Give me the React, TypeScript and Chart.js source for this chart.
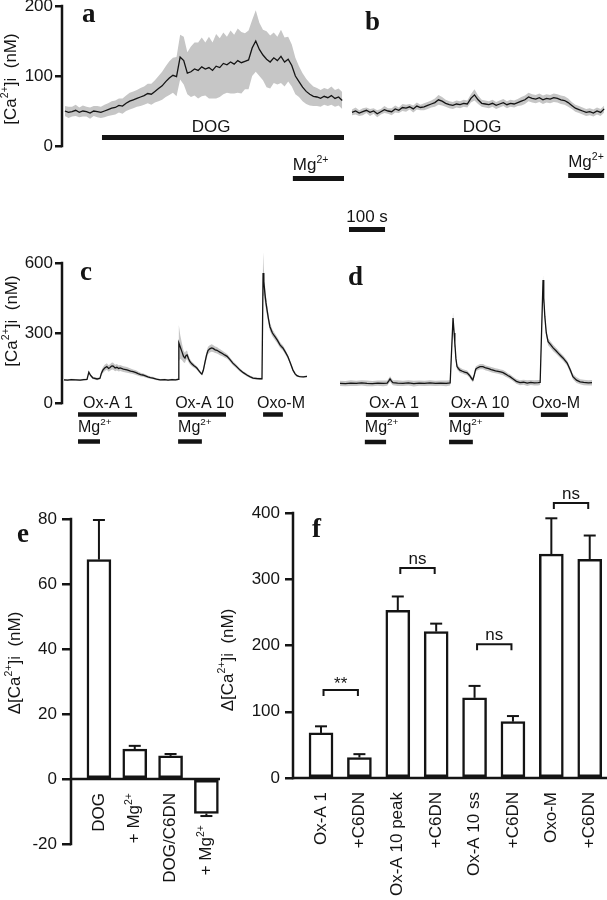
import React, { useEffect, useRef } from 'react';
import { Chart, registerables } from 'chart.js';

Chart.register(...registerables);

/* ================= data ================= */
// traces a & b: one sample every 10 s
const TRACE_STEP_S = 10;

const aMean = [
  50, 48, 49, 51, 48, 50, 49, 47, 50, 49,
  48, 50, 52, 54, 55, 58, 57, 61, 64, 66,
  68, 70, 72, 75, 74, 78, 82, 86, 92, 97,
  101, 99, 127, 122, 104, 106, 110, 108, 113, 110,
  112, 108, 114, 112, 118, 116, 120, 117, 122, 119,
  121, 123, 140, 150, 138, 130, 124, 120, 126, 122,
  128, 120, 124, 115, 100, 92, 84, 78, 74, 71,
  70, 68, 71, 69, 72, 68, 70, 65,
];
const aSd = [
  7, 8, 7, 8, 7, 8, 7, 8, 7, 8,
  8, 9, 9, 10, 10, 10, 11, 11, 12, 12,
  12, 13, 13, 14, 15, 16, 18, 20, 22, 24,
  25, 28, 32, 34, 30, 36, 38, 40, 42, 38,
  44, 40, 46, 42, 44, 40, 45, 42, 46, 44,
  40, 42, 40, 44, 38, 36, 40, 38, 36, 34,
  38, 35, 32, 30, 26, 22, 20, 18, 16, 14,
  13, 12, 12, 12, 13, 12, 12, 12,
];
const bMean = [
  48, 50, 47, 49, 51, 48, 50, 46, 49, 52,
  50, 49, 53, 51, 55, 54, 56, 53, 57, 55,
  56, 58, 60, 62, 66, 64, 61, 59, 58, 60,
  59, 61, 60, 68, 73, 66, 61, 60, 59, 61,
  58, 60, 62, 59, 61, 60, 62, 64, 66, 70,
  68, 67, 69, 66, 68, 67, 69, 68, 66, 65,
  62, 58, 54, 52, 50, 48, 49, 47, 50, 48,
  53,
];
const bSd = [
  4, 5, 4, 5, 4, 5, 4, 5, 4, 5,
  4, 5, 5, 4, 5, 5, 4, 5, 5, 4,
  5, 5, 5, 6, 7, 6, 5, 5, 5, 5,
  5, 5, 5, 6, 8, 6, 5, 5, 5, 5,
  5, 5, 5, 5, 5, 5, 5, 6, 6, 6,
  6, 6, 6, 6, 6, 6, 6, 6, 6, 6,
  6, 5, 5, 5, 5, 5, 5, 5, 5, 5,
  5,
];

// traces c & d: time (s), mean and SD (nM)
const cTime = [
  0, 10, 20, 33, 45, 55, 64, 69, 74, 80,
  92, 100, 104, 108, 113, 119, 124, 128, 132, 136,
  142, 147, 152, 156, 165, 175, 185, 192, 200, 206,
  213, 219, 226, 233, 240, 247, 257, 267, 280, 289,
  300, 310, 317, 319, 323, 328, 332, 336, 339, 342,
  346, 350, 355, 361, 365, 369, 375, 380, 383, 387,
  392, 396, 400, 405, 410, 414, 420, 425, 430, 433,
  440, 446, 453, 460, 469, 478, 489, 498, 508, 516,
  525, 535, 544, 550, 553, 555, 558, 561, 564, 568,
  572, 579, 586, 593, 600, 604, 608, 615, 622, 629,
  636, 642, 647, 652, 656, 665, 675,
];
const cMean = [
  99, 98, 100, 99, 98, 100, 101, 132, 118, 108,
  103, 106, 128, 141, 150, 156, 148, 152, 158, 159,
  150, 153, 148, 150, 145, 142, 137, 134, 130, 126,
  122, 120, 116, 112, 109, 107, 102, 99, 100, 98,
  100, 99, 101, 257, 240, 218, 200, 193, 204, 206,
  190, 177, 168, 160, 155, 150, 138, 128, 124, 140,
  177, 205, 225, 232, 236, 234, 228, 226, 221, 218,
  212, 206, 200, 188, 171, 158, 141, 130, 120, 113,
  107, 105, 104, 104, 557, 520, 471, 430, 399, 360,
  327, 300, 284, 268, 249, 242, 236, 218, 198, 170,
  141, 125, 117, 114, 113, 112, 114,
];
const cSd = [
  4, 4, 4, 4, 4, 4, 4, 8, 6, 5,
  5, 5, 10, 12, 14, 14, 14, 14, 15, 15,
  14, 14, 13, 13, 12, 12, 11, 10, 10, 9,
  8, 8, 7, 6, 5, 5, 4, 4, 4, 4,
  4, 4, 5, 77, 50, 35, 25, 22, 20, 18,
  15, 12, 10, 9, 8, 8, 7, 6, 6, 10,
  14, 16, 16, 16, 16, 15, 14, 14, 13, 13,
  12, 11, 10, 9, 9, 8, 7, 6, 6, 5,
  5, 4, 4, 4, 90, 60, 40, 30, 25, 20,
  18, 15, 14, 13, 12, 12, 11, 10, 9, 8,
  7, 6, 5, 4, 4, 4, 4,
];
const dTime = [
  0, 15, 30, 45, 60, 75, 90, 105, 120, 131,
  136, 139, 143, 147, 160, 175, 190, 205, 220, 235,
  250, 265, 280, 295, 306, 314, 317, 319, 322, 325,
  329, 333, 340, 346, 353, 360, 366, 369, 373, 377,
  381, 389, 397, 405, 413, 420, 425, 432, 439, 446,
  453, 460, 466, 472, 480, 490, 500, 510, 520, 530,
  540, 550, 556, 564, 566, 569, 573, 578, 585, 592,
  600, 606, 611, 620, 631, 640, 647, 657, 667, 677,
  690, 700,
];
const dMean = [
  84, 83, 85, 84, 86, 84, 83, 85, 84, 85,
  96, 103, 94, 87, 85, 84, 86, 83, 85, 84,
  86, 84, 85, 84, 86, 364, 300, 257, 190, 156,
  148, 141, 136, 132, 129, 118, 104, 99, 120, 145,
  150, 156, 156, 150, 147, 143, 141, 138, 136, 133,
  130, 124, 118, 113, 104, 93, 87, 89, 85, 88,
  86, 87, 88, 527, 450, 370, 300, 263, 250, 236,
  224, 214, 206, 192, 171, 140, 113, 98, 91, 88,
  86, 87,
];
const dSd = [
  11, 11, 12, 11, 11, 12, 11, 11, 12, 11,
  11, 12, 11, 11, 12, 11, 11, 12, 11, 11,
  12, 11, 11, 12, 11, 24, 20, 18, 15, 12,
  11, 11, 10, 10, 10, 10, 10, 10, 10, 11,
  11, 11, 11, 11, 11, 11, 11, 11, 11, 11,
  11, 11, 10, 10, 10, 10, 11, 11, 12, 11,
  11, 12, 11, 22, 20, 18, 16, 15, 14, 14,
  13, 13, 12, 12, 11, 11, 11, 12, 11, 12,
  11, 12,
];

// application periods (s)
const aDOG = [103, 775];
const aMg = [633, 775];
const bDOG = [117, 700];
const bMg = [600, 700];
const cOxA1 = [39, 203];
const cOxA10 = [317, 450];
const cOxoM = [553, 608];
const cMg1 = [39, 100];
const cMg10 = [317, 383];
const dOxA1 = [72, 219];
const dOxA10 = [303, 456];
const dOxoM = [558, 633];
const dMg1 = [69, 128];
const dMg10 = [303, 369];
const SCALE_BAR_S = 100;

const abTicks = [0, 100, 200];
const cdTicks = [0, 300, 600];

// bar panels
const eLabels = ['DOG', '+ Mg^{2+}', 'DOG/C6DN', '+ Mg^{2+}'];
const eMean = [67.5, 9.2, 7.1, -10.6];
const eErr = [12.2, 1.0, 0.6, 0.8];
const eTicks = [-20, 0, 20, 40, 60, 80];

const fLabels = ['Ox-A 1', '+C6DN', 'Ox-A 10 peak', '+C6DN', 'Ox-A 10 ss', '+C6DN', 'Oxo-M', '+C6DN'];
const fMean = [68, 31, 253, 221, 121, 85, 338, 330];
const fErr = [10, 5, 21, 12, 18, 8.5, 54, 36];
const fTicks = [0, 100, 200, 300, 400];
const fSigFrom = [1, 3, 5, 7];
const fSigTo = [2, 4, 6, 8];
const fSigY = [133, 317, 202, 415];
const fSigText = ['**', 'ns', 'ns', 'ns'];

/* ================= drawing helpers ================= */
const W = 607;
const H = 900;
const OFF = 30;
const CH = H + 2 * OFF;
const YW = 45;
const INK = '#141414';
const BAND = '#c6c6c6';
const SANS = '"Liberation Sans", Arial, Helvetica, sans-serif';
const SERIF = '"Liberation Serif", "Times New Roman", serif';

type Box = { l: number; t: number; r: number; b: number };

Chart.defaults.font.family = SANS;

function parseRich(s: string) {
  const out: { t: string; sup: boolean }[] = [];
  const re = /\^\{([^}]*)\}/g;
  let last = 0;
  let m: RegExpExecArray | null;
  while ((m = re.exec(s))) {
    if (m.index > last) out.push({ t: s.slice(last, m.index), sup: false });
    out.push({ t: m[1], sup: true });
    last = m.index + m[0].length;
  }
  if (last < s.length) out.push({ t: s.slice(last), sup: false });
  return out;
}

function drawRich(
  ctx: CanvasRenderingContext2D,
  s: string,
  x: number,
  y: number,
  align: 'left' | 'center' | 'right',
  size: number,
  baseline: CanvasTextBaseline = 'alphabetic'
) {
  const segs = parseRich(s);
  const supSize = size * 0.62;
  const raise = baseline === 'middle' ? size * 0.32 : size * 0.42;
  ctx.textBaseline = baseline;
  ctx.textAlign = 'left';
  ctx.fillStyle = INK;
  const widths = segs.map((g) => {
    ctx.font = `${g.sup ? supSize : size}px ${SANS}`;
    return ctx.measureText(g.t).width;
  });
  const total = widths.reduce((p, c) => p + c, 0);
  let cx = align === 'left' ? x : align === 'center' ? x - total / 2 : x - total;
  segs.forEach((g, i) => {
    ctx.font = `${g.sup ? supSize : size}px ${SANS}`;
    ctx.fillText(g.t, cx, g.sup ? y - raise : y);
    cx += widths[i];
  });
}

// page-coordinate text
function text(ctx: CanvasRenderingContext2D, s: string, x: number, y: number, align: 'left' | 'center' | 'right', size = 17) {
  drawRich(ctx, s, x, y + OFF, align, size);
}

function rotated(ctx: CanvasRenderingContext2D, s: string, x: number, yCanvas: number, align: 'left' | 'center' | 'right', size = 17) {
  ctx.save();
  ctx.translate(x, yCanvas);
  ctx.rotate(-Math.PI / 2);
  drawRich(ctx, s, 0, 0, align, size, 'middle');
  ctx.restore();
}

function letter(ctx: CanvasRenderingContext2D, s: string, x: number, y: number) {
  ctx.font = `bold 27px ${SERIF}`;
  ctx.textAlign = 'left';
  ctx.textBaseline = 'alphabetic';
  ctx.fillStyle = INK;
  ctx.fillText(s, x, y + OFF);
}

function hbar(ctx: CanvasRenderingContext2D, x1: number, x2: number, yPage: number, th = 5) {
  ctx.fillStyle = INK;
  ctx.fillRect(x1, yPage + OFF - th / 2, x2 - x1, th);
}

function line(ctx: CanvasRenderingContext2D, pts: number[][], w = 2) {
  ctx.strokeStyle = INK;
  ctx.lineWidth = w;
  ctx.lineCap = 'butt';
  ctx.beginPath();
  pts.forEach((p, i) => (i ? ctx.lineTo(p[0], p[1]) : ctx.moveTo(p[0], p[1])));
  ctx.stroke();
}

function pad(box: Box, axis: boolean) {
  return {
    left: axis ? box.l - YW : box.l,
    top: box.t + OFF,
    right: W - box.r,
    bottom: CH - (box.b + OFF),
  };
}

function yScale(show: boolean, min: number, max: number, ticks: number[], tickLength: number, padding: number) {
  const s: any = {
    type: 'linear',
    min,
    max,
    display: show,
    afterBuildTicks: (sc: any) => {
      sc.ticks = ticks.map((v) => ({ value: v }));
    },
    ticks: { color: INK, font: { size: 17, family: SANS }, padding },
    grid: { drawOnChartArea: false, drawTicks: true, tickLength, color: INK, lineWidth: 2.5 },
    border: { display: false },
  };
  if (show) s.afterFit = (sc: any) => { sc.width = YW; };
  return s;
}

type Px = (v: number) => number;

function traceChart(
  canvas: HTMLCanvasElement,
  o: {
    time: number[]; mean: number[]; sd: number[]; box: Box; xMin: number; xMax: number; yMax: number;
    ticks: number[]; axis: boolean; draw: (ctx: CanvasRenderingContext2D, px: Px, py: Px) => void;
  }
) {
  const n = Math.min(o.time.length, o.mean.length, o.sd.length);
  const mean: any[] = [];
  const up: any[] = [];
  const lo: any[] = [];
  for (let i = 0; i < n; i++) {
    mean.push({ x: o.time[i], y: o.mean[i] });
    up.push({ x: o.time[i], y: o.mean[i] + o.sd[i] });
    lo.push({ x: o.time[i], y: o.mean[i] - o.sd[i] });
  }
  return new Chart(canvas, {
    type: 'line',
    data: {
      datasets: [
        { data: mean, borderColor: INK, borderWidth: 1.3, pointRadius: 0, fill: false, clip: false, order: 0, tension: 0 } as any,
        { data: up, borderColor: 'rgba(0,0,0,0)', borderWidth: 0, pointRadius: 0, fill: '+1', backgroundColor: BAND, clip: false, order: 1 } as any,
        { data: lo, borderColor: 'rgba(0,0,0,0)', borderWidth: 0, pointRadius: 0, fill: false, clip: false, order: 2 } as any,
      ],
    },
    options: {
      responsive: false,
      maintainAspectRatio: false,
      animation: false,
      devicePixelRatio: 1,
      events: [],
      layout: { padding: pad(o.box, o.axis) },
      plugins: { legend: { display: false }, tooltip: { enabled: false } },
      scales: {
        x: { type: 'linear', min: o.xMin, max: o.xMax, display: false },
        y: yScale(o.axis, 0, o.yMax, o.ticks, 7, 2),
      },
    } as any,
    plugins: [
      {
        id: 'annot',
        afterDraw: (chart: any) => {
          const ctx = chart.ctx as CanvasRenderingContext2D;
          const xs = chart.scales.x;
          const ys = chart.scales.y;
          const px = (t: number) => xs.getPixelForValue(t);
          const py = (v: number) => ys.getPixelForValue(v);
          ctx.save();
          if (o.axis) {
            const x = chart.chartArea.left;
            line(ctx, [[x, py(o.ticks[0]) + 1.25], [x, py(o.ticks[o.ticks.length - 1]) - 1.25]], 2.5);
          }
          o.draw(ctx, px, py);
          ctx.restore();
        },
      },
    ],
  });
}

function barChart(
  canvas: HTMLCanvasElement,
  o: {
    mean: number[]; err: number[]; labels: string[]; box: Box; xMin: number; xMax: number; yMin: number; yMax: number;
    ticks: number[]; tickLength: number; zeroRight: number;
    draw: (ctx: CanvasRenderingContext2D, px: Px, py: Px) => void;
  }
) {
  return new Chart(canvas, {
    type: 'bar',
    data: {
      datasets: [
        {
          data: o.mean.map((v, i) => ({ x: i + 1, y: v })),
          backgroundColor: '#ffffff',
          borderColor: INK,
          borderWidth: 2.5,
          borderSkipped: false,
          barThickness: 24,
        } as any,
      ],
    },
    options: {
      responsive: false,
      maintainAspectRatio: false,
      animation: false,
      devicePixelRatio: 1,
      events: [],
      layout: { padding: pad(o.box, true) },
      plugins: { legend: { display: false }, tooltip: { enabled: false } },
      scales: {
        x: { type: 'linear', min: o.xMin, max: o.xMax, display: false, offset: false },
        y: yScale(true, o.yMin, o.yMax, o.ticks, o.tickLength, 5),
      },
    } as any,
    plugins: [
      {
        id: 'annot',
        afterDraw: (chart: any) => {
          const ctx = chart.ctx as CanvasRenderingContext2D;
          const xs = chart.scales.x;
          const ys = chart.scales.y;
          const px = (t: number) => xs.getPixelForValue(t);
          const py = (v: number) => ys.getPixelForValue(v);
          const left = chart.chartArea.left;
          ctx.save();
          line(ctx, [[left, py(o.ticks[0]) + 1.25], [left, py(o.ticks[o.ticks.length - 1]) - 1.25]], 2.5);
          line(ctx, [[left, py(0)], [o.zeroRight, py(0)]], 2.5);
          o.mean.forEach((v, i) => {
            const x = px(i + 1);
            const sgn = v >= 0 ? 1 : -1;
            const y0 = py(v);
            const y1 = py(v + sgn * o.err[i]);
            line(ctx, [[x, y0], [x, y1]], 2);
            line(ctx, [[x - 6, y1], [x + 6, y1]], 2);
            const yTop = v >= 0 ? py(0) + 14 : y1 + 9;
            rotated(ctx, o.labels[i], x, yTop, 'right', 17);
          });
          o.draw(ctx, px, py);
          ctx.restore();
        },
      },
    ],
  });
}

/* ================= panels ================= */
const BOX_A: Box = { l: 62, t: 6, r: 344, b: 146 };
const BOX_B: Box = { l: 352, t: 6, r: 606, b: 146 };
const BOX_C: Box = { l: 62, t: 403 - (650 * 70) / 300, r: 307, b: 403 };
const BOX_D: Box = { l: 340, t: 403 - (650 * 70) / 300, r: 592, b: 403 };
const BOX_E: Box = { l: 71, t: 519, r: 220, b: 844 };
const BOX_F: Box = { l: 293, t: 513, r: 607, b: 778 };

const CA_TITLE = '[Ca^{2+}]i  (nM)';
const DCA_TITLE = '\u0394[Ca^{2+}]i  (nM)';

function build(cs: HTMLCanvasElement[]) {
  const stepTimes = (n: number) => Array.from({ length: n }, (_, i) => i * TRACE_STEP_S);
  const charts: Chart[] = [];

  charts.push(
    traceChart(cs[0], {
      time: stepTimes(aMean.length), mean: aMean, sd: aSd, box: BOX_A, xMin: -8, xMax: 775, yMax: 200,
      ticks: abTicks, axis: true,
      draw: (ctx, px) => {
        hbar(ctx, px(aDOG[0]), px(aDOG[1]), 137.5);
        text(ctx, 'DOG', 211, 132, 'center');
        hbar(ctx, px(aMg[0]), px(aMg[1]), 178.5);
        text(ctx, 'Mg^{2+}', px(aMg[0]), 170, 'left');
        letter(ctx, 'a', 82, 22);
        rotated(ctx, CA_TITLE, 11, 79 + OFF, 'center', 17);
      },
    })
  );

  charts.push(
    traceChart(cs[1], {
      time: stepTimes(bMean.length), mean: bMean, sd: bSd, box: BOX_B, xMin: 0, xMax: 705, yMax: 200,
      ticks: abTicks, axis: false,
      draw: (ctx, px) => {
        hbar(ctx, px(bDOG[0]), px(bDOG[1]), 137.5);
        text(ctx, 'DOG', 482, 132, 'center');
        hbar(ctx, px(bMg[0]), px(bMg[1]), 175.5);
        text(ctx, 'Mg^{2+}', px(bMg[0]), 167, 'left');
        letter(ctx, 'b', 365, 30);
        const len = px(SCALE_BAR_S) - px(0);
        hbar(ctx, 349, 349 + len, 229.5);
        text(ctx, '100 s', 349 + len / 2, 222, 'center');
      },
    })
  );

  charts.push(
    traceChart(cs[2], {
      time: cTime, mean: cMean, sd: cSd, box: BOX_C, xMin: -5.5, xMax: 675, yMax: 650,
      ticks: cdTicks, axis: true,
      draw: (ctx, px) => {
        [cOxA1, cOxA10, cOxoM].forEach((p) => hbar(ctx, px(p[0]), px(p[1]), 414.5, 4.5));
        [cMg1, cMg10].forEach((p) => {
          hbar(ctx, px(p[0]), px(p[1]), 441.5, 4.5);
          text(ctx, 'Mg^{2+}', px(p[0]), 432, 'left', 16);
        });
        text(ctx, 'Ox-A 1', 108, 408, 'center', 16);
        text(ctx, 'Ox-A 10', 204.5, 408, 'center', 16);
        text(ctx, 'Oxo-M', 281, 408, 'center', 16);
        letter(ctx, 'c', 80, 280);
        rotated(ctx, CA_TITLE, 12, 321 + OFF, 'center', 17);
      },
    })
  );

  charts.push(
    traceChart(cs[3], {
      time: dTime, mean: dMean, sd: dSd, box: BOX_D, xMin: 0, xMax: 700, yMax: 650,
      ticks: cdTicks, axis: false,
      draw: (ctx, px) => {
        [dOxA1, dOxA10, dOxoM].forEach((p) => hbar(ctx, px(p[0]), px(p[1]), 414.7, 4.5));
        [dMg1, dMg10].forEach((p) => {
          hbar(ctx, px(p[0]), px(p[1]), 442, 4.5);
          text(ctx, 'Mg^{2+}', px(p[0]), 432, 'left', 16);
        });
        text(ctx, 'Ox-A 1', 394, 408, 'center', 16);
        text(ctx, 'Ox-A 10', 480, 408, 'center', 16);
        text(ctx, 'Oxo-M', 556, 408, 'center', 16);
        letter(ctx, 'd', 348, 285);
      },
    })
  );

  charts.push(
    barChart(cs[4], {
      mean: eMean, err: eErr, labels: eLabels, box: BOX_E, xMin: 0.22, xMax: 4.38, yMin: -20, yMax: 80,
      ticks: eTicks, tickLength: 9, zeroRight: 220,
      draw: (ctx) => {
        letter(ctx, 'e', 17, 542);
        rotated(ctx, DCA_TITLE, 15, 663 + OFF, 'center', 17);
      },
    })
  );

  charts.push(
    barChart(cs[5], {
      mean: fMean, err: fErr, labels: fLabels, box: BOX_F, xMin: 0.27, xMax: 8.45, yMin: 0, yMax: 400,
      ticks: fTicks, tickLength: 8, zeroRight: 607,
      draw: (ctx, px, py) => {
        fSigY.forEach((yv, i) => {
          const x1 = px(fSigFrom[i]) + 2.5;
          const x2 = px(fSigTo[i]) - 1.5;
          const y = py(yv);
          line(ctx, [[x1, y + 6], [x1, y], [x2, y], [x2, y + 6]], 2);
          const t = fSigText[i];
          drawRich(ctx, t, (x1 + x2) / 2, t === '**' ? y - 1 : y - 4, 'center', 17);
        });
        letter(ctx, 'f', 312, 537);
        rotated(ctx, DCA_TITLE, 228, 660 + OFF, 'center', 17);
      },
    })
  );

  return charts;
}

export default function App() {
  const r0 = useRef<HTMLCanvasElement>(null);
  const r1 = useRef<HTMLCanvasElement>(null);
  const r2 = useRef<HTMLCanvasElement>(null);
  const r3 = useRef<HTMLCanvasElement>(null);
  const r4 = useRef<HTMLCanvasElement>(null);
  const r5 = useRef<HTMLCanvasElement>(null);
  const refs = [r0, r1, r2, r3, r4, r5];

  useEffect(() => {
    const cs = refs.map((r) => r.current as HTMLCanvasElement);
    const charts = build(cs);
    return () => charts.forEach((c) => c.destroy());
  }, []);

  return (
    <div style={{ position: 'absolute', left: 0, top: 0, width: W, height: H, overflow: 'hidden', background: '#ffffff' }}>
      {refs.map((r, i) => (
        <canvas
          key={i}
          ref={r}
          width={W}
          height={CH}
          style={{ position: 'absolute', left: 0, top: -OFF, width: W, height: CH }}
        />
      ))}
    </div>
  );
}
